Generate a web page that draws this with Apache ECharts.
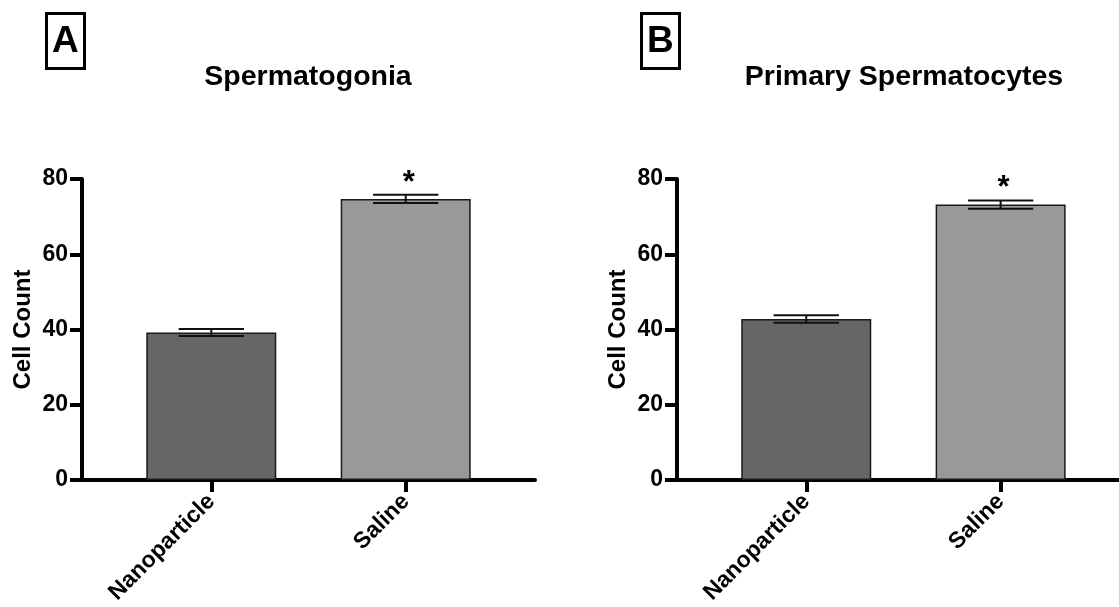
<!DOCTYPE html>
<html>
<head>
<meta charset="utf-8">
<script src="https://cdn.jsdelivr.net/npm/echarts@6/dist/echarts.min.js"></script>
<style>
html,body{margin:0;padding:0;background:#fff;}
#chart{width:1119px;height:607px;}
</style>
</head>
<body>
<div id="chart"></div>
<script>
// ---- data ----
const categories = ['Nanoparticle', 'Saline'];
const spermatogoniaMean = [39.2, 74.7];
const spermatogoniaSem = [0.9, 1.1];
const spermatocytesMean = [42.8, 73.2];
const spermatocytesSem = [1.0, 1.1];
const significance = ['', '*'];
const yTicks = [0, 20, 40, 60, 80];
const panelTitles = ['Spermatogonia', 'Primary Spermatocytes'];
const panelLetters = ['A', 'B'];
const barColors = ['#666666', '#999999'];

const FONT = "'Liberation Sans', Arial, Helvetica, sans-serif";

const chart = echarts.init(document.getElementById('chart'), null, {renderer: 'canvas'});

function xAxisFor(gi, xmax) {
  return {
    gridIndex: gi, type: 'value', min: -0.665, max: xmax,
    splitLine: {show: false},
    axisLine: {show: true, onZero: false, lineStyle: {color: '#000', width: 4}},
    axisTick: {show: true, customValues: [0, 1], length: 12, lineStyle: {color: '#000', width: 4}},
    axisLabel: {
      show: true, customValues: [0, 1], rotate: 45, margin: 18,
      formatter: v => categories[Math.round(v)] || '',
      color: '#000', fontFamily: FONT, fontWeight: 'bold', fontSize: 23
    }
  };
}
function yAxisFor(gi) {
  return {
    gridIndex: gi, type: 'value', min: 0, max: 80, interval: 20,
    name: 'Cell Count', nameLocation: 'middle', nameGap: 47,
    nameTextStyle: {color: '#000', fontFamily: FONT, fontWeight: 'bold', fontSize: 24},
    splitLine: {show: false},
    axisLine: {show: true, onZero: false, lineStyle: {color: '#000', width: 4}},
    axisTick: {show: true, length: 12, lineStyle: {color: '#000', width: 4}},
    axisLabel: {
      color: '#000', fontFamily: FONT, fontWeight: 'bold', fontSize: 23, margin: 14,
      formatter: v => yTicks.indexOf(v) >= 0 ? String(v) : ''
    }
  };
}
function barSeries(gi, means) {
  return {
    type: 'bar', xAxisIndex: gi, yAxisIndex: gi,
    barWidth: 130,
    data: means.map((m, i) => [i, m]),
    itemStyle: {
      color: p => barColors[p.dataIndex],
      borderColor: '#1a1a1a', borderWidth: 1.5
    },
    silent: true, animation: false
  };
}
function errSeries(gi, means, sems) {
  return {
    type: 'custom', xAxisIndex: gi, yAxisIndex: gi,
    data: means.map((m, i) => [i, m, sems[i]]),
    renderItem: function (params, api) {
      const x = api.value(0), m = api.value(1), s = api.value(2);
      const top = api.coord([x, m + s]);
      const bot = api.coord([x, m - s]);
      const half = api.size([1, 0])[0] * 0.168;
      const ls = {stroke: '#111', lineWidth: 2};
      const children = [
        {type: 'line', shape: {x1: top[0], y1: top[1], x2: bot[0], y2: bot[1]}, style: ls},
        {type: 'line', shape: {x1: top[0] - half, y1: top[1], x2: top[0] + half, y2: top[1]}, style: ls},
        {type: 'line', shape: {x1: bot[0] - half, y1: bot[1], x2: bot[0] + half, y2: bot[1]}, style: ls}
      ];
      const sig = significance[params.dataIndex];
      if (sig) {
        children.push({
          type: 'text',
          style: {
            text: sig, x: top[0] + 3, y: top[1] + 4,
            fill: '#000', font: 'bold 31px ' + FONT,
            textAlign: 'center', textVerticalAlign: 'bottom'
          }
        });
      }
      return {type: 'group', children: children};
    },
    z: 5, silent: true, animation: false
  };
}

const option = {
  backgroundColor: '#fff',
  animation: false,
  title: [
    {text: panelLetters[0], left: 46, top: 13, padding: [10, 6, 9, 6],
     borderColor: '#000', borderWidth: 3,
     textStyle: {fontFamily: FONT, fontWeight: 'bold', fontSize: 37, lineHeight: 37, color: '#000'}},
    {text: panelLetters[1], left: 641, top: 13, padding: [10, 6, 9, 6],
     borderColor: '#000', borderWidth: 3,
     textStyle: {fontFamily: FONT, fontWeight: 'bold', fontSize: 37, lineHeight: 37, color: '#000'}},
    {text: panelTitles[0], left: 308, top: 63, textAlign: 'center', padding: 0,
     textStyle: {fontFamily: FONT, fontWeight: 'bold', fontSize: 28.5, color: '#000'}},
    {text: panelTitles[1], left: 904, top: 63, textAlign: 'center', padding: 0,
     textStyle: {fontFamily: FONT, fontWeight: 'bold', fontSize: 28.5, color: '#000'}}
  ],
  grid: [
    {left: 82, top: 179, width: 453, height: 301},
    {left: 677, top: 179, width: 442, height: 301}
  ],
  xAxis: [xAxisFor(0, 1.665), xAxisFor(1, 1.609)],
  yAxis: [yAxisFor(0), yAxisFor(1)],
  series: [
    barSeries(0, spermatogoniaMean),
    errSeries(0, spermatogoniaMean, spermatogoniaSem),
    barSeries(1, spermatocytesMean),
    errSeries(1, spermatocytesMean, spermatocytesSem)
  ]
};
chart.setOption(option);
</script>
</body>
</html>
